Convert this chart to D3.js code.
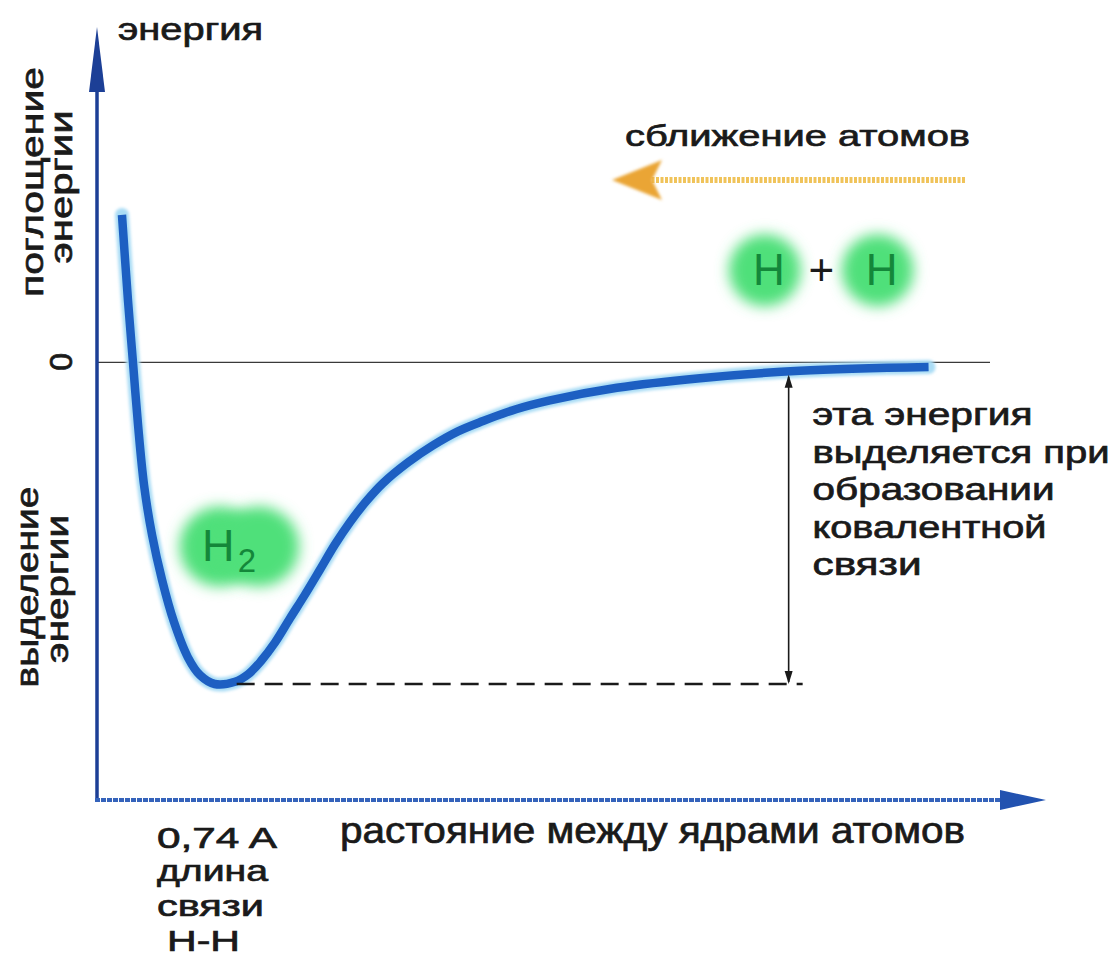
<!DOCTYPE html>
<html>
<head>
<meta charset="utf-8">
<script src="https://cdn.jsdelivr.net/npm/d3@7"></script>
<style>
  body { margin: 0; background: #fff; }
  text { font-family: "Liberation Sans", Arial, sans-serif; fill: #1a1a1a; }
  .heavy { stroke: #1a1a1a; stroke-width: 0.7px; }
</style>
</head>
<body>
<svg id="chart" width="1118" height="959"></svg>
<script>
// potential energy curve of H2 (distance in angstrom, energy in kJ/mol)
const distance = [0.157, 0.195, 0.226, 0.258, 0.296, 0.346, 0.409, 0.484, 0.572, 0.648, 0.74, 0.868, 0.95, 1.031, 1.119, 1.214, 1.308, 1.403, 1.497, 1.591, 1.692, 1.799, 1.956, 2.113, 2.27, 2.428, 2.635, 2.849, 3.27, 3.792, 4.421, 5.23];
const energy   = [199, 83, 0, -85, -167, -234, -295, -352, -400, -424, -436, -433, -423, -405, -380, -347, -315, -281, -247, -217, -189, -164, -136, -113, -94, -80, -64, -52, -35, -22, -12, -7];

const bondLength = 0.74;
const bondEnergy = -436;

const yTicks = [0];
const yTickLabels = ["0"];

const noteLines = ["эта энергия", "выделяется при", "образовании", "ковалентной", "связи"];
const noteWidths = [220, 297, 242, 234, 109];
const bondLines = ["0,74 A", "длина", "связи", "H-H"];
const bondWidths = [120, 111, 107, 73];

const svg = d3.select("#chart");

const x = d3.scaleLinear().domain([0, 6]).range([97, 1051]);
const y = d3.scaleLinear().domain([-593, 452]).range([800, 28]);

// glow filter for the atoms
const defs = svg.append("defs");
defs.append("filter").attr("id", "glow").attr("x", "-50%").attr("y", "-50%").attr("width", "200%").attr("height", "200%")
    .append("feGaussianBlur").attr("stdDeviation", 7);
defs.append("filter").attr("id", "soft")
    .append("feGaussianBlur").attr("stdDeviation", 1.5);

// zero line drawn as an axis tick
const zeroAxis = svg.append("g")
    .attr("transform", "translate(" + x(0) + ",0)")
    .call(d3.axisLeft(y).tickValues(yTicks).tickSize(-(990 - x(0))).tickFormat(""));
zeroAxis.select(".domain").remove();
zeroAxis.selectAll(".tick line").attr("stroke", "#3a3a3a").attr("stroke-width", 1.3);

yTicks.forEach((t, i) => {
    svg.append("text")
        .attr("class", "heavy")
        .attr("transform", "translate(72," + y(t) + ") rotate(-90)")
        .attr("text-anchor", "middle")
        .attr("font-size", 32)
        .text(yTickLabels[i]);
});

// axes with arrows
svg.append("line")
    .attr("x1", x(0)).attr("x2", x(0))
    .attr("y1", y(-593)).attr("y2", 85)
    .attr("stroke", "#1c3f96").attr("stroke-width", 3.5);
svg.append("path")
    .attr("d", "M" + x(0) + ",27 L" + (x(0) + 8) + ",92 L" + (x(0) - 8) + ",92 Z")
    .attr("fill", "#1c3f96");

svg.append("line")
    .attr("x1", x(0) - 2).attr("x2", 1005)
    .attr("y1", y(-593)).attr("y2", y(-593))
    .attr("stroke", "#3563bb").attr("stroke-width", 4)
    .attr("stroke-dasharray", "5,1");
svg.append("path")
    .attr("d", "M1046," + y(-593) + " L1000," + (y(-593) - 10) + " L1000," + (y(-593) + 10) + " Z")
    .attr("fill", "#2252b0");

// H2 glow + label
const h2 = svg.append("g");
h2.selectAll("circle")
    .data([0.77, 1.02])
    .join("circle")
    .attr("cx", d => x(d))
    .attr("cy", y(-250))
    .attr("r", 40)
    .attr("fill", "#4fe07a")
    .attr("filter", "url(#glow)");
h2.append("text")
    .attr("x", x(0.66)).attr("y", y(-269))
    .attr("font-size", 45).style("fill", "#14873a")
    .text("H");
h2.append("text")
    .attr("x", x(0.885)).attr("y", y(-285))
    .attr("font-size", 33).style("fill", "#14873a")
    .text("2");

// H + H
const atoms = [4.2, 4.91];
svg.selectAll(".atom")
    .data(atoms)
    .join("circle")
    .attr("class", "atom")
    .attr("cx", d => x(d))
    .attr("cy", y(124))
    .attr("r", 36)
    .attr("fill", "#4fe07a")
    .attr("filter", "url(#glow)");
svg.selectAll(".atomlabel")
    .data(atoms)
    .join("text")
    .attr("class", "atomlabel")
    .attr("x", d => x(d) + 4)
    .attr("y", y(104))
    .attr("text-anchor", "middle")
    .attr("font-size", 44)
    .style("fill", "#14873a")
    .text("H");
svg.append("text")
    .attr("x", x(4.555)).attr("y", y(104))
    .attr("text-anchor", "middle")
    .attr("font-size", 44)
    .text("+");

// curve
const line = d3.line()
    .x((d, i) => x(distance[i]))
    .y((d, i) => y(energy[i]))
    .curve(d3.curveCatmullRom.alpha(0.5));

svg.append("path")
    .datum(energy)
    .attr("d", line)
    .attr("fill", "none")
    .attr("stroke", "#a9dcf5")
    .attr("stroke-width", 14)
    .attr("stroke-linecap", "round")
    .attr("filter", "url(#soft)");
svg.append("path")
    .datum(energy)
    .attr("d", line)
    .attr("fill", "none")
    .attr("stroke", "#1d5fc2")
    .attr("stroke-width", 8.5)
    .attr("stroke-linecap", "butt");

// dashed line at the minimum and energy arrow
const arrowX = x(4.35);
svg.append("line")
    .attr("x1", x(bondLength) + 22).attr("x2", arrowX + 14)
    .attr("y1", y(bondEnergy)).attr("y2", y(bondEnergy))
    .attr("stroke", "#1a1a1a").attr("stroke-width", 2.5)
    .attr("stroke-dasharray", "18,10");

svg.append("line")
    .attr("x1", arrowX).attr("x2", arrowX)
    .attr("y1", y(-12) + 6).attr("y2", y(bondEnergy) - 2)
    .attr("stroke", "#1a1a1a").attr("stroke-width", 1.6);
svg.append("path")
    .attr("d", "M" + arrowX + "," + (y(-12) + 4) + " l-4,13 l8,0 Z")
    .attr("fill", "#1a1a1a");
svg.append("path")
    .attr("d", "M" + arrowX + "," + y(bondEnergy) + " l-4,-13 l8,0 Z")
    .attr("fill", "#1a1a1a");

noteLines.forEach((t, i) => {
    svg.append("text")
        .attr("class", "heavy")
        .attr("x", x(4.5))
        .attr("y", 425 + i * 37.5)
        .attr("font-size", 31)
        .attr("textLength", noteWidths[i])
        .attr("lengthAdjust", "spacingAndGlyphs")
        .text(t);
});

// "сближение атомов" with orange arrow
svg.append("text")
    .attr("class", "heavy")
    .attr("x", 625).attr("y", 146)
    .attr("font-size", 30)
    .attr("textLength", 345)
    .attr("lengthAdjust", "spacingAndGlyphs")
    .text("сближение атомов");
svg.append("line")
    .attr("x1", 965).attr("x2", 650)
    .attr("y1", 180).attr("y2", 180)
    .attr("stroke", "#f0c35a").attr("stroke-width", 6)
    .attr("stroke-dasharray", "3,1.5");
svg.append("path")
    .attr("d", "M612,180 L662,160 L652,180 L662,200 Z")
    .attr("fill", "#eaa534")
    .attr("filter", "url(#soft)");

// axis titles
svg.append("text")
    .attr("class", "heavy")
    .attr("x", 118).attr("y", 40)
    .attr("font-size", 31)
    .attr("textLength", 145)
    .attr("lengthAdjust", "spacingAndGlyphs")
    .text("энергия");

const sideLabels = [
    { t: "поглощение", bx: 43, cy: 182, w: 230 },
    { t: "энергии", bx: 72, cy: 187, w: 153 },
    { t: "выделение", bx: 38, cy: 587, w: 201 },
    { t: "энергии", bx: 68, cy: 589, w: 148 }
];
sideLabels.forEach(d => {
    svg.append("text")
        .attr("class", "heavy")
        .attr("transform", "translate(" + d.bx + "," + d.cy + ") rotate(-90)")
        .attr("text-anchor", "middle")
        .attr("font-size", 32)
        .attr("textLength", d.w)
        .attr("lengthAdjust", "spacingAndGlyphs")
        .text(d.t);
});

svg.append("text")
    .attr("class", "heavy")
    .attr("x", 340).attr("y", 843)
    .attr("font-size", 36)
    .attr("textLength", 625)
    .attr("lengthAdjust", "spacingAndGlyphs")
    .text("растояние между ядрами атомов");

const bondY = [848, 881, 916, 951];
bondLines.forEach((t, i) => {
    svg.append("text")
        .attr("class", "heavy")
        .attr("x", i === 3 ? 167 : 157)
        .attr("y", bondY[i])
        .attr("font-size", 30)
        .attr("textLength", bondWidths[i])
        .attr("lengthAdjust", "spacingAndGlyphs")
        .text(t);
});
</script>
</body>
</html>
